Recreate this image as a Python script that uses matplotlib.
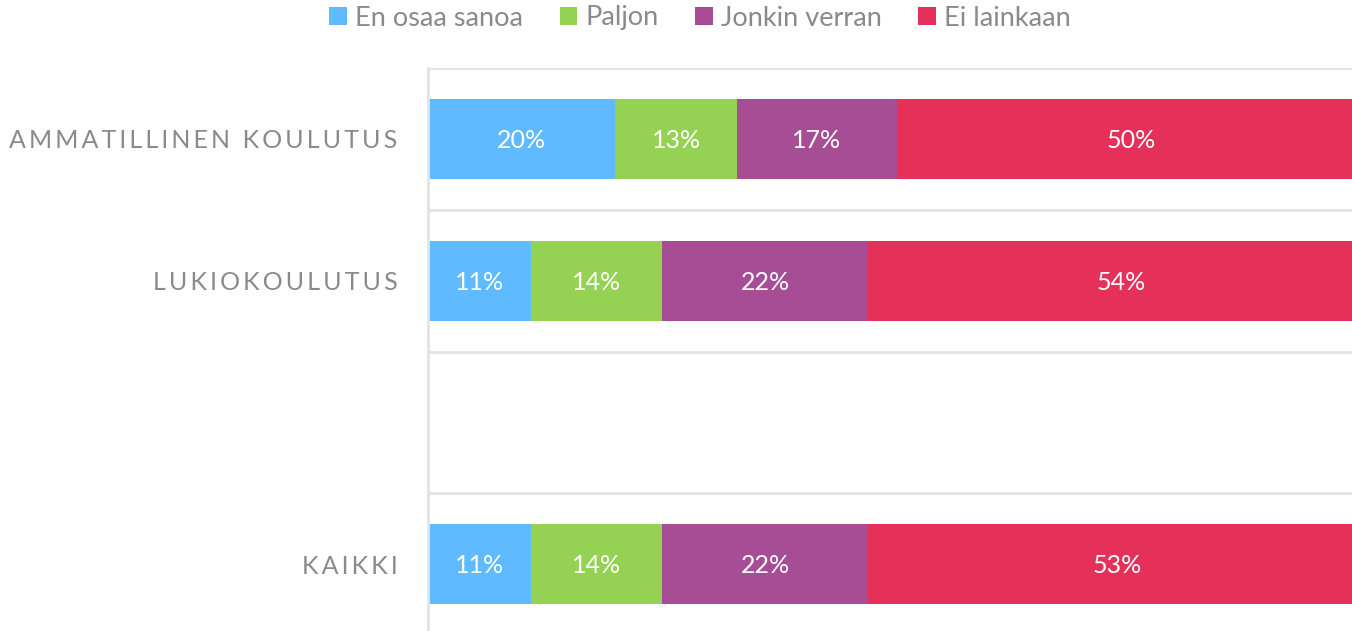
import matplotlib.pyplot as plt
from matplotlib.patches import Patch

# data (percent shares per group)
categories = ["AMMATILLINEN KOULUTUS", "LUKIOKOULUTUS", "", "KAIKKI"]
series = ["En osaa sanoa", "Paljon", "Jonkin verran", "Ei lainkaan"]
en_osaa = [20, 11, None, 11]
paljon = [13, 14, None, 14]
jonkin = [17, 22, None, 22]
ei = [50, 54, None, 53]
colors = ["#5fbaff", "#95d152", "#a64d96", "#e5305a"]

values = [en_osaa, paljon, jonkin, ei]

fig = plt.figure(figsize=(13.52, 6.31), dpi=100)
ax = fig.add_axes([428 / 1352, -4 / 631, 1 - 428 / 1352 + 0.01, 567 / 631])

ypos = list(range(len(categories)))
left = [0.0] * len(categories)
for vals, col in zip(values, colors):
    for i, v in enumerate(vals):
        if v is None:
            continue
        ax.barh(ypos[i], v, left=left[i], height=0.565, color=col, edgecolor="none")
        ax.text(left[i] + v / 2, ypos[i] + 0.01, f"{v}%", ha="center", va="center",
                color="white", fontsize=18, family=["Lato", "DejaVu Sans"])
        left[i] += v

ax.set_xlim(0, 100 * 924 / 930 + 0.7)
ax.set_ylim(len(categories) - 0.5, -0.5)

# row separators
for b in range(len(categories) + 1):
    ax.axhline(b - 0.5, color="#e3e3e3", lw=2, zorder=0)

ax.set_xticks([])
ax.set_yticks(ypos)
spaced = ["\u2009".join(c) if c else c for c in categories]
ax.set_yticklabels(spaced, fontsize=18, color="#8a8a8a", family=["Lato", "DejaVu Sans"])
ax.tick_params(axis="y", length=0, pad=22)
for s in ["right", "bottom", "top"]:
    ax.spines[s].set_visible(False)
ax.spines["left"].set_color("#e3e3e3")
ax.spines["left"].set_linewidth(2)

handles = [Patch(facecolor=c, edgecolor="none") for c in colors]
fig.legend(handles, series, loc="center", bbox_to_anchor=(700 / 1352, 1 - 18 / 631),
           ncol=4, frameon=False, labelcolor="#8a8a8a",
           handlelength=0.65, handleheight=0.65, handletextpad=0.3, columnspacing=1.35,
           prop={"family": ["Lato", "DejaVu Sans"], "size": 19.5})

fig.savefig("out.png", dpi=100)
